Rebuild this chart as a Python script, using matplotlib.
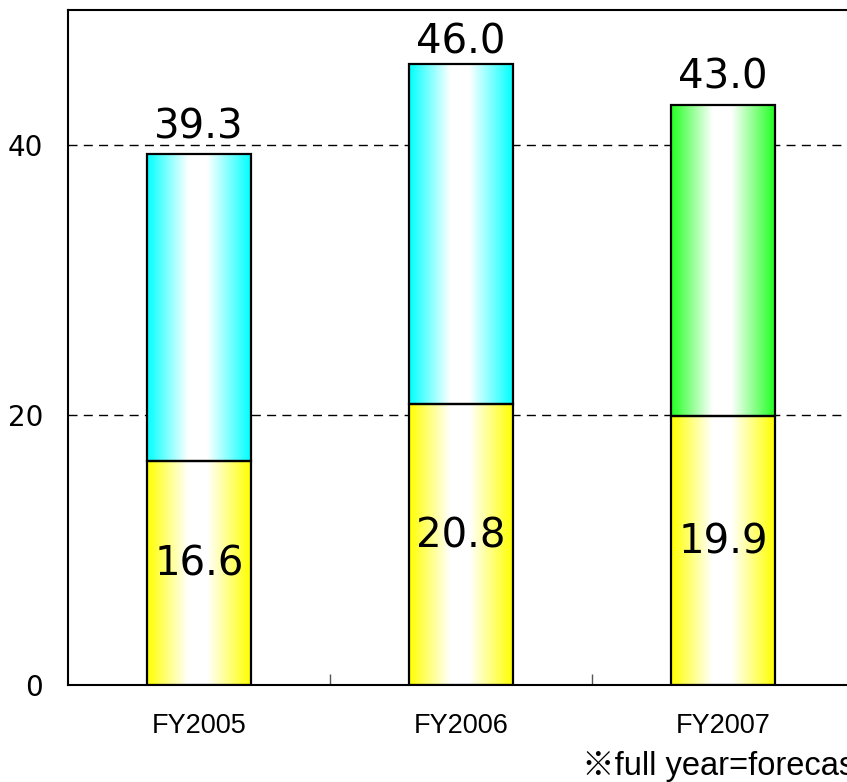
import numpy as np
import matplotlib

matplotlib.use('Agg')
import matplotlib.pyplot as plt
from matplotlib.colors import LinearSegmentedColormap

years = ['FY2005', 'FY2006', 'FY2007']
lower = [16.6, 20.8, 19.9]
total = [39.3, 46.0, 43.0]
upper_colors = ['#00ffff', '#00ffff', '#22ff22']
lower_color = '#ffff00'


def gradient_cmap(color):
    # saturated at both edges, white band in the middle
    return LinearSegmentedColormap.from_list(
        'g', [(0.0, color), (0.40, 'white'), (0.58, 'white'), (1.0, color)])


def fill_gradient(ax, rect, color):
    x0, y0 = rect.get_x(), rect.get_y()
    w, h = rect.get_width(), rect.get_height()
    grad = np.linspace(0, 1, 256).reshape(1, -1)
    ax.imshow(grad, cmap=gradient_cmap(color), extent=(x0, x0 + w, y0, y0 + h),
              aspect='auto', interpolation='bilinear', zorder=2)


fig = plt.figure(figsize=(8.47, 7.82), dpi=100)
ax = fig.add_axes([68 / 847, 97 / 782, 786 / 847, 675 / 782])

x = np.arange(len(years))
upper = [t - l for t, l in zip(total, lower)]
width = 0.395
ymax = 50

low_bars = ax.bar(x, lower, width, facecolor='none', edgecolor='black', linewidth=1.6, zorder=3)
up_bars = ax.bar(x, upper, width, bottom=lower, facecolor='none', edgecolor='black',
                 linewidth=1.6, zorder=3)

for rect in low_bars:
    fill_gradient(ax, rect, lower_color)
for rect, c in zip(up_bars, upper_colors):
    fill_gradient(ax, rect, c)

# value labels (totals kept below the top of the frame)
for xi, l, t in zip(x, lower, total):
    ty = min(t + 1.15, ymax - 3.2)
    ax.text(xi, ty, '%.1f' % t, ha='center', va='baseline', fontsize=29,
            family='DejaVu Sans', zorder=5)
    ax.annotate('%.1f' % l, (xi, l / 2), xytext=(0, 6), textcoords='offset points',
                ha='center', va='center', fontsize=29, family='DejaVu Sans', zorder=5)

ax.set_xlim(-0.5, 2.5)
ax.set_ylim(0, ymax)

ax.set_yticks([0, 20, 40])
ax.tick_params(axis='y', length=0, pad=18, labelsize=20)
ax.yaxis.grid(True, linestyle=(0, (6.5, 4.5)), color='black', linewidth=1.0, zorder=1)
ax.set_axisbelow(True)

ax.set_xticks([0.5, 1.5])
ax.set_xticklabels([])
ax.tick_params(axis='x', which='major', direction='in', length=8, width=1, color='#555555')
ax.set_xticks(x, minor=True)
ax.set_xticklabels(years, minor=True, family='Liberation Sans', fontsize=19.5)
ax.tick_params(axis='x', which='minor', length=0, pad=20)

for s in ax.spines.values():
    s.set_linewidth(1.5)

fig.text(582 / 847, (782 - 766) / 782, '※full year=forecast',
         fontsize=23.5, family=['Liberation Sans', 'Noto Sans CJK JP'], va='center', ha='left')

fig.savefig('out.png', dpi=100)
